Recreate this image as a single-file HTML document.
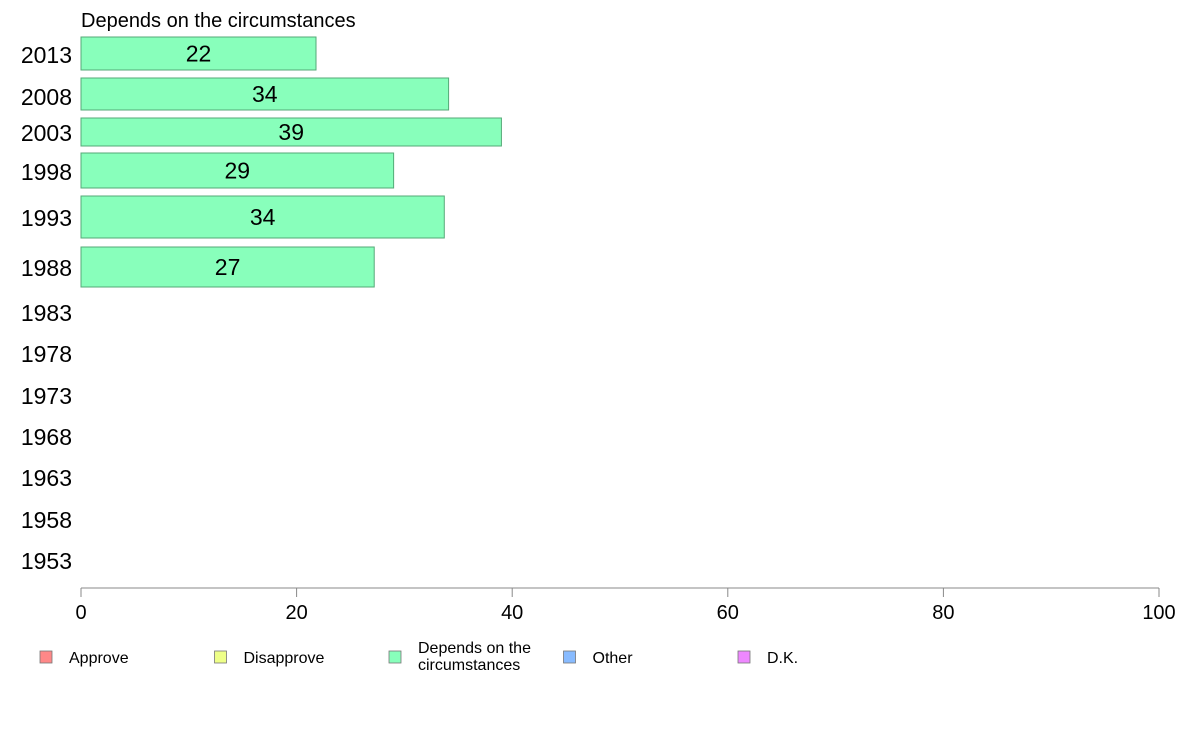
<!DOCTYPE html>
<html><head><meta charset="utf-8"><style>
body{margin:0;background:#fff;font-family:"Liberation Sans",Arial,sans-serif}
svg text{font-family:"Liberation Sans",Arial,sans-serif}
</style></head><body>
<svg id="chart" width="1188" height="736" xmlns="http://www.w3.org/2000/svg">
<text x="81" y="27" font-size="20" fill="#000">Depends on the circumstances</text>
<g id="bars"></g><g id="ylabels"></g>
<line x1="81" y1="588" x2="1159" y2="588" stroke="#888" stroke-width="1"/>
<g id="xaxis"></g>
<g id="legend"></g>
</svg>
<script>
const years=["2013","2008","2003","1998","1993","1988","1983","1978","1973","1968","1963","1958","1953"];
const values=[21.8,34.1,39.0,29.0,33.7,27.2,null,null,null,null,null,null,null];
const printed=["22","34","39","29","34","27","","","","","","",""];
const xTicks=[0,20,40,60,80,100];
const legendLabels=[["Approve"],["Disapprove"],["Depends on the","circumstances"],["Other"],["D.K."]];
const legendColors=["#ff8888","#eeff88","#88ffbb","#88bbff","#ee88ff"];
// layout (row bands in pixels)
const rowTop=[37,78,118,153,196,247,null,null,null,null,null,null,null];
const rowBot=[70,110,146,188,238,287,null,null,null,null,null,null,null];
const labelY=[55,97,133,172,218,268,313,354,396,437,478,520,561];
const NS="http://www.w3.org/2000/svg";
const x=v=>81+v*(1159-81)/100;
function mk(t,a,p){const e=document.createElementNS(NS,t);for(const k in a)e.setAttribute(k,a[k]);p.appendChild(e);return e;}
const gb=document.getElementById('bars'),gy=document.getElementById('ylabels'),gx=document.getElementById('xaxis'),gl=document.getElementById('legend');
years.forEach((yr,i)=>{
 const t=mk('text',{x:72,y:labelY[i]+8,'font-size':23,'text-anchor':'end',fill:'#000'},gy);t.textContent=yr;
 
 
 if(values[i]!=null){
  const r=mk('rect',{x:x(0),y:rowTop[i],width:x(values[i])-x(0),height:rowBot[i]-rowTop[i],fill:'#88ffbb',stroke:'#55aa77','stroke-width':1},gb);
  
  
  const l=mk('text',{x:(x(0)+x(values[i]))/2,y:(rowTop[i]+rowBot[i])/2+8,'font-size':23,'text-anchor':'middle',fill:'#000'},gb);l.textContent=printed[i];
  
  
 }
});
xTicks.forEach(v=>{
 const ln=mk('line',{x1:x(v),x2:x(v),y1:588,y2:597,stroke:'#888'},gx);
 
 
 const t=mk('text',{x:x(v),y:619,'font-size':20,'text-anchor':'middle',fill:'#000'},gx);t.textContent=v;
 
 
});
legendLabels.forEach((lab,i)=>{
 const bx=40+i*174.5;
 const r=mk('rect',{x:bx,y:651,width:12,height:12,fill:legendColors[i],stroke:'#777','stroke-width':0.8},gl);
 
 
 lab.forEach((s,j)=>{
  const t=mk('text',{x:bx+29,y:(lab.length>1?653:663)+j*17,'font-size':16,fill:'#000'},gl);t.textContent=s;
  
  
 });
});
</script>
</body></html>
